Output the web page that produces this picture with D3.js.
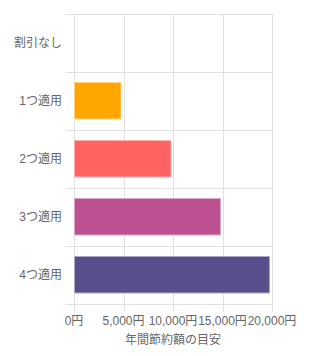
<!DOCTYPE html>
<html>
<head>
<meta charset="utf-8">
<script src="https://cdn.jsdelivr.net/npm/d3@7"></script>
<style>
	body { margin: 0; background: #fff; }
	svg text { font-family: "Liberation Sans", Arial, "Noto Sans CJK JP", sans-serif; fill: #666; }
</style>
</head>
<body>
<div id="chart"></div>
<script>
// datos del gráfico
var categorias = ["割引なし", "1つ適用", "2つ適用", "3つ適用", "4つ適用"];
var valores = [0, 4800, 9850, 14850, 19800];
var colores = ["#ffa600", "#ffa600", "#ff6361", "#bc5090", "#58508d"];
var bordes = ["#ffd280", "#ffd280", "#ffb1b0", "#dda8c8", "#aba8c6"];
var ticksX = [0, 5000, 10000, 15000, 20000];
var tituloX = "年間節約額の目安";

const margin = {top: 14, right: 40, bottom: 52, left: 74},
	width = 312 - margin.left - margin.right,
	height = 356 - margin.top - margin.bottom;

const svg = d3.select("#chart")
	.append("svg")
	.attr("width", 312)
	.attr("height", 356)
	.append("g")
	.attr("transform", `translate(${margin.left},${margin.top})`);

var x = d3.scaleLinear()
	.domain([0, 20000])
	.range([0, width]);

var y = d3.scaleBand()
	.domain(categorias)
	.range([0, height]);

// rejilla vertical
svg.append("g")
	.selectAll("line")
	.data(ticksX)
	.enter()
	.append("line")
	.attr("x1", function(d) { return Math.round(x(d)) + 0.5; })
	.attr("x2", function(d) { return Math.round(x(d)) + 0.5; })
	.attr("y1", 0)
	.attr("y2", height + 8)
	.attr("stroke", "#e0e0e0");

// rejilla horizontal (límites de categoría)
var limites = categorias.map(function(d) { return y(d); }).concat([height]);
svg.append("g")
	.selectAll("line")
	.data(limites)
	.enter()
	.append("line")
	.attr("x1", -8)
	.attr("x2", width)
	.attr("y1", function(d) { return Math.round(d) + 0.5; })
	.attr("y2", function(d) { return Math.round(d) + 0.5; })
	.attr("stroke", "#e0e0e0");

// barras
svg.selectAll("rect.bar")
	.data(valores)
	.enter()
	.append("rect")
	.attr("class", "bar")
	.attr("x", x(0) + 0.5)
	.attr("y", function(d, i) { return y(categorias[i]) + 10.5; })
	.attr("width", function(d) { return Math.max(0, x(d) - x(0) - 1); })
	.attr("height", 36.5)
	.attr("fill", function(d, i) { return colores[i]; })
	.attr("stroke", function(d, i) { return d > 0 ? bordes[i] : "none"; })
	.attr("stroke-width", 1);

// etiquetas del eje Y
svg.append("g")
	.selectAll("text")
	.data(categorias)
	.enter()
	.append("text")
	.attr("x", -12)
	.attr("y", function(d) { return y(d) + y.bandwidth() / 2; })
	.attr("dy", "0.35em")
	.attr("text-anchor", "end")
	.style("font-size", "12px")
	.text(function(d) { return d; });

// etiquetas del eje X
svg.append("g")
	.selectAll("text")
	.data(ticksX)
	.enter()
	.append("text")
	.attr("x", function(d) { return x(d); })
	.attr("y", height + 17)
	.attr("dy", "0.35em")
	.attr("text-anchor", "middle")
	.style("font-size", "12px")
	.text(function(d) { return d3.format(",")(d) + "円"; });

svg.append("text")
	.attr("x", width / 2)
	.attr("y", height + 36)
	.attr("dy", "0.35em")
	.attr("text-anchor", "middle")
	.style("font-size", "12px")
	.text(tituloX);
</script>
</body>
</html>
